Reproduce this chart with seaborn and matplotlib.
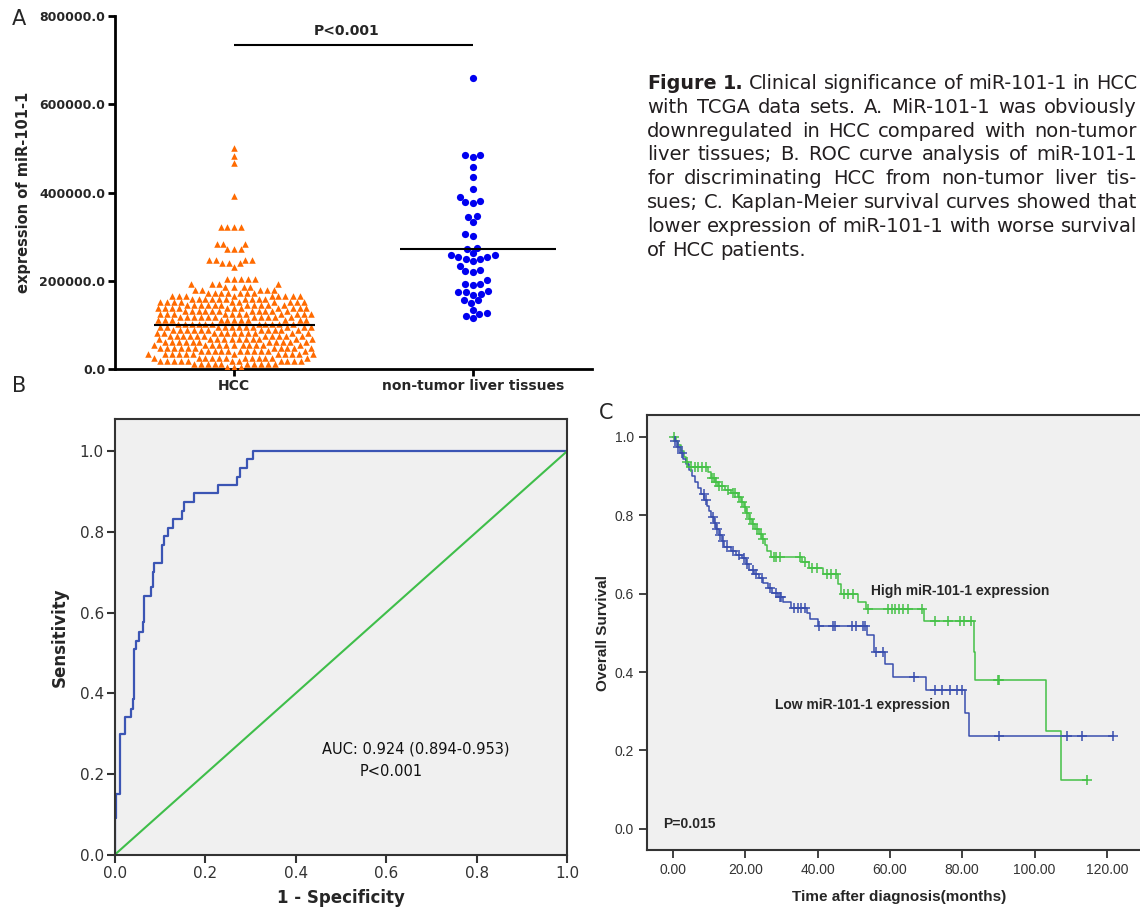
import numpy as np
import pandas as pd
import matplotlib
matplotlib.use("Agg")
import matplotlib.pyplot as plt
import seaborn as sns
from matplotlib import font_manager as fm

# ---------------- Panel A: expression of miR-101-1 ----------------
group_names = ["HCC", "non-tumor liver tissues"]
# rows of the HCC scatter (value in thousands) and how many points sit in each row
hcc_levels = [5, 12, 19, 26, 33, 40, 47, 54, 61, 68, 75, 82, 89, 96, 103, 110, 117,
              124, 131, 138, 145, 152, 159, 166, 173, 180, 186, 192, 203, 231, 240,
              248, 272, 284, 322, 393, 466, 482, 500]
hcc_counts = [3, 10, 11, 12, 12, 11, 11, 11, 11, 11, 11, 11, 11, 11, 11, 11, 11,
              11, 11, 11, 11, 10, 10, 9, 7, 5, 4, 4, 5, 1, 3,
              4, 3, 3, 4, 1, 1, 1, 1]
normal_values = [660, 485, 481, 485, 458, 436, 407, 390, 379, 377, 381, 347, 333, 345,
                 305, 302, 273, 275, 262, 258, 254, 249, 245, 250, 254, 258, 224, 219,
                 222, 233, 202, 193, 191, 193, 177, 174, 168, 171, 175, 156, 150, 156,
                 134, 124, 116, 121, 126]
center_values = [100000, 272000]
bracket_value = 734000
p_text_a = "P<0.001"
a_ticks = [0, 200000, 400000, 600000, 800000]

# ---------------- Panel B: ROC curve ----------------
roc_fpr = [0.0, 0.0, 0.003, 0.011, 0.023, 0.036, 0.040, 0.042, 0.046, 0.053, 0.063,
           0.065, 0.080, 0.084, 0.086, 0.105, 0.108, 0.118, 0.128, 0.149, 0.153,
           0.174, 0.228, 0.270, 0.276, 0.292, 0.305, 1.0]
roc_tpr = [0.0, 0.09, 0.15, 0.30, 0.34, 0.36, 0.385, 0.51, 0.53, 0.553, 0.576,
           0.641, 0.663, 0.70, 0.724, 0.768, 0.789, 0.81, 0.831, 0.852, 0.873,
           0.896, 0.916, 0.937, 0.958, 0.98, 1.0, 1.0]
diag_x = [0.0, 1.0]
diag_y = [0.0, 1.0]
auc_text = "AUC: 0.924 (0.894-0.953)"
p_text_b = "P<0.001"
b_ticks = [0.0, 0.2, 0.4, 0.6, 0.8, 1.0]

# ---------------- Panel C: Kaplan-Meier ----------------
high_time = [0, 0.8, 1.5, 2.2, 3.0, 3.6, 4.2, 9.8, 10.5, 11.5, 12.5, 14.5, 16.0, 18.0,
             18.8, 19.5, 20.2, 21.0, 21.8, 22.8, 23.8, 24.6, 25.4, 26.0, 27.0, 35.8,
             37.5, 41.5, 45.5, 46.5, 51.2, 53.4, 69.5, 83.3, 83.6, 103.3, 107.2, 114.4]
high_surv = [1.0, 0.99, 0.98, 0.965, 0.95, 0.935, 0.923, 0.91, 0.896, 0.885, 0.875,
             0.865, 0.858, 0.848, 0.835, 0.82, 0.805, 0.79, 0.778, 0.765, 0.752, 0.74,
             0.725, 0.71, 0.694, 0.68, 0.665, 0.65, 0.625, 0.60, 0.58, 0.562, 0.53,
             0.45, 0.38, 0.25, 0.125, 0.125]
high_censor = [0.3, 3.8, 5, 6, 7, 8, 9.2, 10.8, 11.2, 12, 12.8, 13.5, 15.2, 16.5, 17.2,
               18.3, 19, 19.8, 20.6, 21.4, 22.2, 23.2, 24.2, 25, 27.8, 28.5, 29.5, 35,
               36.5, 38.5, 39.8, 42.5, 43.8, 45, 47.2, 48.5, 49.8, 53.8, 59.5, 60.5,
               61.5, 62.5, 63.5, 65, 69, 72.5, 76, 79.5, 80.5, 82.5, 90, 90.3, 114.4]
low_time = [0, 0.5, 1.2, 2.0, 2.8, 3.6, 4.4, 5.2, 6.0, 7.0, 7.8, 8.6, 9.3, 10.0, 10.6,
            11.3, 12.0, 12.8, 13.5, 14.2, 16.0, 17.5, 19.0, 20.2, 21.0, 22.5, 23.8,
            25.0, 26.2, 27.5, 29.0, 30.5, 32.5, 37.0, 38.0, 40.0, 53.6, 55.5, 58.6,
            60.8, 70.0, 80.8, 82.0, 121.6]
low_surv = [1.0, 0.99, 0.975, 0.96, 0.945, 0.93, 0.915, 0.9, 0.885, 0.87, 0.855, 0.84,
            0.825, 0.81, 0.795, 0.78, 0.765, 0.75, 0.735, 0.72, 0.71, 0.70, 0.69,
            0.675, 0.66, 0.65, 0.64, 0.628, 0.615, 0.603, 0.592, 0.578, 0.564, 0.55,
            0.535, 0.518, 0.495, 0.45, 0.42, 0.388, 0.355, 0.296, 0.236, 0.236]
low_censor = [0.5, 1.5, 2.5, 8.5, 9, 11, 11.5, 12.2, 13, 13.8, 15, 16.5, 18.2, 19.5,
              20.5, 22, 23, 24.5, 26.8, 28.5, 29.5, 30, 33.5, 34.5, 35.5, 36.5, 40.5,
              44.3, 44.7, 49.5, 50.5, 52.5, 53, 56.2, 58.2, 66.6, 72.5, 74.5, 76.5,
              78.5, 80, 90.2, 109, 113, 121.6]
c_xticks = [0, 20, 40, 60, 80, 100, 120]
c_yticks = [0.0, 0.2, 0.4, 0.6, 0.8, 1.0]

caption_lines = [
    "Figure 1. Clinical significance of miR-101-1 in HCC",
    "with TCGA data sets. A. MiR-101-1 was obviously",
    "downregulated in HCC compared with non-tumor",
    "liver tissues; B. ROC curve analysis of miR-101-1",
    "for discriminating HCC from non-tumor liver tis-",
    "sues; C. Kaplan-Meier survival curves showed that",
    "lower expression of miR-101-1 with worse survival",
    "of HCC patients.",
]

# ------------------------------------------------------------------
sns.set_style("white")
plt.rcParams["font.family"] = ["DejaVu Sans"]
installed = {f.name for f in fm.fontManager.ttflist}
arial = "Liberation Sans" if "Liberation Sans" in installed else "DejaVu Sans"

W, H = 1140, 913
fig = plt.figure(figsize=(W / 100, H / 100), dpi=100)


def px_axes(left, top, right, bottom):
    return fig.add_axes([left / W, 1 - bottom / H, (right - left) / W, (bottom - top) / H])


# ---- A ----
hcc_df = pd.DataFrame({"group": group_names[0],
                       "value": np.repeat(np.array(hcc_levels) * 1000.0, hcc_counts)})
nor_df = pd.DataFrame({"group": group_names[1], "value": np.array(normal_values) * 1000.0})

ax_a = px_axes(115, 16, 592, 369)
sns.swarmplot(data=hcc_df, x="group", y="value", order=group_names, marker="^",
              color="#ff6a00", size=4.7, linewidth=0, ax=ax_a, warn_thresh=1)
sns.swarmplot(data=nor_df, x="group", y="value", order=group_names, marker="o",
              color="#0000f0", size=5.2, linewidth=0, ax=ax_a, warn_thresh=1)
ax_a.hlines(center_values[0], -0.335, 0.34, color="black", lw=1.5, zorder=5)
ax_a.hlines(center_values[1], 0.695, 1.35, color="black", lw=1.5, zorder=5)
ax_a.hlines(bracket_value, 0.0, 1.0, color="black", lw=1.5)
ax_a.text(0.47, 765000, p_text_a, ha="center", va="center", fontsize=10, fontweight="bold")
ax_a.set_xlim(-0.5, 1.5)
ax_a.set_ylim(0, 800000)
ax_a.set_yticks(a_ticks)
ax_a.set_yticklabels([f"{v:.1f}" for v in a_ticks], fontsize=9, fontweight="bold")
ax_a.set_xticks([0, 1])
ax_a.set_xticklabels(group_names, fontsize=10, fontweight="bold")
ax_a.set_xlabel("")
ax_a.set_ylabel("expression of miR-101-1", fontsize=10.5, fontweight="bold", labelpad=6)
sns.despine(ax=ax_a)
for s in ["left", "bottom"]:
    ax_a.spines[s].set_linewidth(2)
    ax_a.spines[s].set_color("black")
ax_a.tick_params(axis="both", direction="out", length=5, width=2, color="black", pad=2,
                 bottom=True, left=True)

# ---- B ----
ax_b = px_axes(115, 419, 567, 854.5)
ax_b.set_facecolor("#f0f0f0")
sns.lineplot(x=roc_fpr, y=roc_tpr, sort=False, estimator=None, drawstyle="steps-post",
             color="#3b55b4", lw=1.6, ax=ax_b)
sns.lineplot(x=diag_x, y=diag_y, sort=False, estimator=None, color="#3fbe4a", lw=1.5, ax=ax_b)
ax_b.text(0.458, 0.262, auc_text, ha="left", va="center", fontsize=10.5, color="#111111")
ax_b.text(0.542, 0.205, p_text_b, ha="left", va="center", fontsize=10.5, color="#111111")
ax_b.set_xlim(0, 1)
ax_b.set_ylim(0, 1.08)
ax_b.set_xticks(b_ticks)
ax_b.set_yticks(b_ticks)
ax_b.set_xticklabels([f"{v:.1f}" for v in b_ticks], fontsize=11, color="#333333")
ax_b.set_yticklabels([f"{v:.1f}" for v in b_ticks], fontsize=11, color="#333333")
ax_b.set_xlabel("1 - Specificity", fontsize=12, fontweight="bold", labelpad=6)
ax_b.set_ylabel("Sensitivity", fontsize=12, fontweight="bold", labelpad=8)
for s in ax_b.spines.values():
    s.set_linewidth(1.5)
    s.set_color("#333333")
ax_b.tick_params(axis="both", direction="out", length=6, width=1.5, color="#333333",
                 pad=2, bottom=True, left=True)


# ---- C ----
def surv_at(times, surv, t):
    idx = np.searchsorted(times, t, side="right") - 1
    return np.array(surv)[idx]


ax_c = px_axes(647, 415, 1152, 850)
ax_c.set_facecolor("#f0f0f0")
for times, surv, cens, col in [(high_time, high_surv, high_censor, "#45c147"),
                               (low_time, low_surv, low_censor, "#3a4fae")]:
    sns.lineplot(x=times, y=surv, sort=False, estimator=None, drawstyle="steps-post",
                 color=col, lw=1.1, ax=ax_c)
    sns.scatterplot(x=cens, y=surv_at(times, surv, cens), marker="+", s=45,
                    color=col, linewidth=1.1, ax=ax_c, zorder=4)
ax_c.text(54.7, 0.607, "High miR-101-1 expression", fontsize=10, fontweight="bold",
          family=arial, va="center")
ax_c.text(28.3, 0.316, "Low miR-101-1 expression", fontsize=10, fontweight="bold",
          family=arial, va="center")
ax_c.text(-2.8, 0.012, "P=0.015", fontsize=10, fontweight="bold", family=arial, va="center")
ax_c.set_xlim(-7.2, 132.5)
ax_c.set_ylim(-0.054, 1.056)
ax_c.set_xticks(c_xticks)
ax_c.set_yticks(c_yticks)
ax_c.set_xticklabels([f"{v:.2f}" for v in c_xticks], fontsize=10, color="#333333",
                     family=arial)
ax_c.set_yticklabels([f"{v:.1f}" for v in c_yticks], fontsize=10, color="#333333",
                     family=arial)
ax_c.set_xlabel("Time after diagnosis(months)", fontsize=11, fontweight="bold",
                family=arial, labelpad=9)
ax_c.set_ylabel("Overall Survival", fontsize=11, fontweight="bold", family=arial, labelpad=3)
for s in ax_c.spines.values():
    s.set_linewidth(1.5)
    s.set_color("#333333")
ax_c.tick_params(axis="both", direction="out", length=6, width=1.3, color="#333333",
                 bottom=True, left=True)

# ---- panel letters ----
fig.text(12 / W, 1 - 25 / H, "A", fontsize=15)
fig.text(12 / W, 1 - 392 / H, "B", fontsize=15)
fig.text(599 / W, 1 - 419 / H, "C", fontsize=15)

# ---- caption, justified lines (kept inside the figure) ----
renderer = fig.canvas.get_renderer()
cap_left, cap_right, base0, step = 647, 1137, 89, 23.8
cap_size = 14.0


def make_words(line, i, size):
    objs = []
    for j, w in enumerate(line.split(" ")):
        bold = (i == 0 and j < 2)
        objs.append(fig.text(0, 0, w, fontsize=size, color="#231f20",
                             fontweight="bold" if bold else "normal", va="baseline"))
    return objs


for i, line in enumerate(caption_lines):
    size = cap_size
    objs = make_words(line, i, size)
    widths = [o.get_window_extent(renderer).width for o in objs]
    n_gap = len(objs) - 1
    # shrink the line a little if it would not fit with a normal word gap
    while sum(widths) + n_gap * 5.0 > cap_right - cap_left:
        for o in objs:
            o.remove()
        size -= 0.25
        objs = make_words(line, i, size)
        widths = [o.get_window_extent(renderer).width for o in objs]
    if i < len(caption_lines) - 1:
        gap = (cap_right - cap_left - sum(widths)) / n_gap
    else:
        gap = 6.0
    x = cap_left
    for o, wd in zip(objs, widths):
        o.set_position((x / W, 1 - (base0 + i * step) / H))
        x += wd + gap

fig.savefig("out.png", dpi=100)
